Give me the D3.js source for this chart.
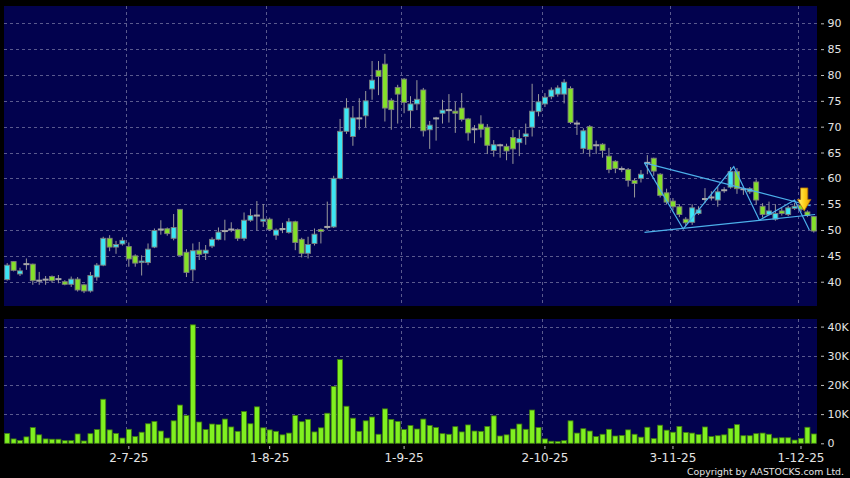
<!DOCTYPE html>
<html>
<head>
<meta charset="utf-8">
<script src="https://d3js.org/d3.v7.min.js"></script>
<style>
    body { margin:0; background:#000; }
    svg { display:block; font-family:"DejaVu Sans", sans-serif; }
</style>
</head>
<body>
<svg id="chart" width="850" height="478"></svg>
<script>
// trading days, d-m-yy
var dates = [
    "4-6-25","5-6-25","6-6-25","9-6-25","10-6-25","11-6-25","12-6-25","13-6-25","16-6-25","17-6-25",
    "18-6-25","19-6-25","20-6-25","23-6-25","24-6-25","25-6-25","26-6-25","27-6-25","30-6-25",
    "2-7-25","3-7-25","4-7-25","7-7-25","8-7-25","9-7-25","10-7-25","11-7-25","14-7-25","15-7-25",
    "16-7-25","17-7-25","18-7-25","21-7-25","22-7-25","23-7-25","24-7-25","25-7-25","28-7-25","29-7-25",
    "30-7-25","31-7-25",
    "1-8-25","4-8-25","5-8-25","6-8-25","7-8-25","8-8-25","11-8-25","12-8-25","13-8-25","14-8-25",
    "15-8-25","18-8-25","19-8-25","20-8-25","21-8-25","22-8-25","25-8-25","26-8-25","27-8-25","28-8-25",
    "29-8-25",
    "1-9-25","2-9-25","3-9-25","4-9-25","5-9-25","8-9-25","9-9-25","10-9-25","11-9-25","12-9-25",
    "15-9-25","16-9-25","17-9-25","18-9-25","19-9-25","22-9-25","23-9-25","24-9-25","25-9-25","26-9-25",
    "29-9-25","30-9-25",
    "2-10-25","3-10-25","6-10-25","8-10-25","9-10-25","10-10-25","13-10-25","14-10-25","15-10-25","16-10-25",
    "17-10-25","20-10-25","21-10-25","22-10-25","23-10-25","24-10-25","27-10-25","28-10-25","30-10-25","31-10-25",
    "3-11-25","4-11-25","5-11-25","6-11-25","7-11-25","10-11-25","11-11-25","12-11-25","13-11-25","14-11-25",
    "17-11-25","18-11-25","19-11-25","20-11-25","21-11-25","24-11-25","25-11-25","26-11-25","27-11-25","28-11-25",
    "1-12-25","2-12-25","3-12-25"
];

var open = [
    40.4,43.9,41.5,43.4,43.4,40.2,40.4,41.0,40.5,40.0, 39.5,40.5,39.4,38.2,40.9,43.2,48.4,46.7,47.3,46.8,
    45.0,43.7,43.7,46.7,50.1,50.25,48.4,54.0,45.7,42.3, 46.1,45.5,46.9,48.2,49.8,50.1,50.1,48.4,51.9,52.8,
    51.7,52.1,49.0,50.2,49.55,51.6,48.2,45.5,47.4,50.1, 50.6,50.6,60.0,69.1,68.1,71.6,72.1,77.3,80.9,82.1,
    75.1,77.6,79.2,73.1,74.4,77.1,69.4,71.6,72.6,73.2, 73.0,73.6,71.5,69.5,70.5,69.9,65.4,66.4,66.2,67.9,
    66.9,68.1,69.9,72.9,74.4,75.8,76.3,76.3,77.4,70.6, 65.8,70.0,66.4,66.6,64.3,63.3,61.8,61.7,59.6,60.0,
    63.0,63.9,60.8,57.2,55.6,54.5,52.1,51.5,53.2,56.0, 56.3,55.8,57.7,58.3,61.3,57.9,57.4,59.3,54.6,53.0,
    52.1,53.7,53.0,54.2,54.8,53.5,52.6
];
var high = [
    43.6,44.0,42.7,44.5,43.5,41.9,41.1,41.2,41.3,40.3, 41.0,40.9,39.6,41.9,43.6,48.7,49.0,47.9,48.6,47.6,
    45.3,45.1,47.4,50.3,51.9,50.5,53.1,54.0,46.3,47.4, 47.7,47.1,48.6,50.5,52.0,51.5,50.3,53.4,54.1,55.6,
    55.0,52.4,50.3,51.4,52.3,51.8,48.5,48.7,50.3,50.3, 55.5,60.5,71.5,75.5,74.0,75.5,76.9,82.7,82.7,84.1,
    75.5,78.1,79.4,75.9,79.0,77.5,71.1,71.9,75.2,76.3, 74.8,76.5,71.7,70.3,72.2,70.5,67.4,66.7,66.7,69.4,
    69.4,70.6,78.3,76.3,76.5,77.6,78.0,79.2,77.8,71.2, 69.7,70.3,67.3,66.8,65.9,63.5,62.3,62.0,60.0,61.6,
    64.5,64.0,61.0,58.0,56.2,55.0,52.5,55.0,54.6,58.1, 57.5,58.4,58.3,62.2,62.0,58.3,58.3,59.8,55.2,55.5,
    55.0,54.3,54.7,55.3,55.5,53.8,52.7
];
var low = [
    40.2,42.0,41.1,42.3,39.4,39.4,39.4,39.8,39.7,39.3, 39.0,38.1,37.8,37.9,40.2,43.0,45.9,45.4,47.0,42.9,
    42.9,41.2,43.2,46.5,49.1,48.9,48.0,45.0,40.9,40.1, 44.2,44.2,46.5,48.0,48.0,49.6,47.9,47.9,51.6,49.9,
    50.6,49.8,48.1,49.4,49.3,46.1,44.7,44.5,47.0,47.4, 50.1,50.4,59.8,68.6,66.3,69.4,69.9,75.2,76.1,71.0,
    69.4,70.6,72.6,69.7,73.2,68.1,65.7,67.3,70.6,70.8, 68.8,71.0,67.3,66.8,67.9,64.7,64.2,64.0,63.5,62.8,
    64.3,66.5,68.1,72.0,73.8,75.3,75.8,74.5,70.5,68.4, 64.8,64.2,64.7,64.0,61.0,61.0,61.2,58.4,56.3,59.2,
    60.8,60.5,56.3,55.0,53.8,52.5,50.8,51.0,52.9,55.2, 55.7,54.5,57.2,58.0,57.0,56.8,57.0,54.9,52.4,52.8,
    51.8,52.8,52.7,53.9,53.5,52.5,49.5
];
var close = [
    43.2,42.2,42.1,43.4,40.2,40.2,40.4,40.2,40.5,39.5, 40.5,38.4,38.2,41.2,43.2,48.4,46.7,47.2,48.0,44.4,
    43.6,44.0,46.3,49.9,50.1,49.3,50.5,45.1,41.8,46.0, 45.3,46.1,48.2,49.6,49.8,50.1,48.4,51.9,52.8,52.8,
    52.1,50.1,50.0,50.2,51.6,47.6,45.5,47.2,49.2,49.7, 50.6,60.0,69.1,73.6,71.7,71.6,75.0,79.0,79.7,73.6,
    73.3,76.3,74.7,74.4,75.3,69.2,70.3,71.6,73.2,73.2, 72.6,71.4,68.8,69.5,69.5,66.4,66.5,66.4,65.3,65.7,
    67.7,68.6,73.0,74.8,75.7,77.1,77.5,78.6,70.8,70.6, 69.2,65.6,66.4,65.4,61.7,61.9,61.8,59.6,59.0,60.8,
    63.0,61.4,56.7,55.4,54.5,53.0,51.4,54.3,53.9,56.0, 56.3,57.4,57.7,61.3,58.0,57.9,58.0,55.8,53.0,53.7,
    53.2,53.2,54.3,54.6,54.0,52.8,49.8
];
// volume in thousands of shares
var volume = [
    3.4,1.5,1.0,2.2,5.4,2.9,1.5,1.4,1.4,0.9, 0.9,3.2,0.8,3.3,4.7,15.1,4.6,3.4,1.8,4.8,
    2.3,3.8,6.7,7.5,4.2,1.8,7.7,13.1,9.5,40.6, 7.3,4.7,6.6,6.4,8.3,5.6,4.1,10.9,6.7,12.5,
    5.3,4.6,4.1,2.9,3.5,9.5,7.4,8.2,3.9,5.3, 10.3,19.5,28.7,12.7,8.6,4.1,7.7,9.0,3.1,11.8,
    8.2,7.5,4.7,6.1,4.9,8.3,6.1,5.4,3.3,3.1, 5.7,3.9,6.3,4.2,4.1,5.8,9.4,2.5,2.9,4.9,
    6.6,4.8,11.4,5.4,1.5,0.7,0.6,0.9,7.7,3.5, 5.0,4.2,2.3,3.1,4.8,2.5,2.7,4.6,3.1,2.1,
    5.5,1.6,6.2,4.5,3.8,5.8,3.7,3.5,3.0,5.6, 2.3,2.6,2.9,5.1,6.4,2.6,2.6,3.3,3.5,3.1,
    1.8,1.9,1.9,1.1,1.7,5.5,3.2
];

var priceTicks = [40, 45, 50, 55, 60, 65, 70, 75, 80, 85, 90];
var volTicks = [0, 10, 20, 30, 40];
var dateTicks = ["2-7-25", "1-8-25", "1-9-25", "2-10-25", "3-11-25", "1-12-25"];

// pattern drawing: [bar index, price]
var trendUpper = [[99.55, 63.0], [125.5, 54.7]];
var trendLower = [[99.55, 49.55], [126.2, 53.0]];
var zigzag = [[99.55, 63.0], [105.6, 50.2], [113.5, 62.25], [117.5, 51.9], [123.0, 55.8], [125.3, 50.0]];
var signalArrow = [124.5, 53.7];

var svg = d3.select("#chart");
var L = 4, R = 817;
var gridColor = "#5a5a8e";
var textColor = "#e4e4e4";

var x = d3.scaleBand().domain(dates).range([L, R]).padding(0);
var xi = d3.scaleLinear().domain([-0.5, dates.length - 0.5]).range([L, R]);
var y = d3.scaleLinear().domain([35.3, 93.35]).range([306, 6]);
var yv = d3.scaleLinear().domain([0, 42.6]).range([443.3, 319]);
var bw = x.bandwidth();

svg.append("rect").attr("width", 850).attr("height", 478).attr("fill", "#000");

// panels
svg.append("rect").attr("x", L).attr("y", y.range()[1]).attr("width", R - L)
    .attr("height", y.range()[0] - y.range()[1]).attr("fill", "#02024e");
svg.append("rect").attr("x", L).attr("y", yv.range()[1]).attr("width", R - L)
    .attr("height", yv.range()[0] - yv.range()[1]).attr("fill", "#02024e");

// grid
var grid = svg.append("g").attr("stroke", gridColor).attr("stroke-dasharray", "3,3").attr("stroke-width", 1);
grid.selectAll(".hp").data(priceTicks).enter().append("line")
    .attr("x1", L).attr("x2", R)
    .attr("y1", function(d) { return Math.round(y(d)) + 0.5; })
    .attr("y2", function(d) { return Math.round(y(d)) + 0.5; });
grid.selectAll(".hv").data(volTicks.filter(function(d) { return d > 0; })).enter().append("line")
    .attr("x1", L).attr("x2", R)
    .attr("y1", function(d) { return Math.round(yv(d)) + 0.5; })
    .attr("y2", function(d) { return Math.round(yv(d)) + 0.5; });
dateTicks.forEach(function(d) {
    var gx = Math.round(x(d)) + 0.5;
    grid.append("line").attr("x1", gx).attr("x2", gx).attr("y1", y.range()[1]).attr("y2", y.range()[0]);
    grid.append("line").attr("x1", gx).attr("x2", gx).attr("y1", yv.range()[1]).attr("y2", yv.range()[0]);
});

// candles
var idx = d3.range(dates.length);
var cx = function(i) { return x(dates[i]) + bw / 2; };
var candles = svg.append("g");
candles.selectAll(".wick").data(idx).enter().append("line")
    .attr("x1", cx).attr("x2", cx)
    .attr("y1", function(i) { return y(high[i]); })
    .attr("y2", function(i) { return y(low[i]); })
    .attr("stroke", "#9a9a9a").attr("stroke-width", 1);

candles.selectAll(".body").data(idx.filter(function(i) { return open[i] !== close[i]; })).enter().append("rect")
    .attr("x", function(i) { return cx(i) - 2.5; })
    .attr("width", 5)
    .attr("y", function(i) { return y(Math.max(open[i], close[i])); })
    .attr("height", function(i) { return Math.max(1.5, Math.abs(y(open[i]) - y(close[i]))); })
    .attr("fill", function(i) { return close[i] > open[i] ? "#3ce6f4" : "#84e02a"; })
    .attr("stroke", "#7c7c7c").attr("stroke-width", 0.9);

candles.selectAll(".doji").data(idx.filter(function(i) { return open[i] === close[i]; })).enter().append("rect")
    .attr("x", function(i) { return cx(i) - 3; })
    .attr("width", 6)
    .attr("y", function(i) { return y(open[i]) - 1; })
    .attr("height", 2)
    .attr("fill", "#a8a8a8");

// volume
svg.append("g").selectAll("rect").data(idx).enter().append("rect")
    .attr("x", function(i) { return cx(i) - 2.5; })
    .attr("width", 5)
    .attr("y", function(i) { return yv(volume[i]); })
    .attr("height", function(i) { return yv(0) - yv(volume[i]); })
    .attr("fill", "#80f020").attr("stroke", "#3f7a10").attr("stroke-width", 0.8);

// pattern lines
var pline = d3.line().x(function(p) { return xi(p[0]); }).y(function(p) { return y(p[1]); });
var pat = svg.append("g").attr("fill", "none").attr("stroke", "#4cb0ea").attr("stroke-width", 1.2);
[trendUpper, trendLower, zigzag].forEach(function(pts) {
    pat.append("path").attr("d", pline(pts));
});

// signal arrow
var defs = svg.append("defs");
var grad = defs.append("linearGradient").attr("id", "arrowGrad").attr("x1", "0").attr("x2", "1").attr("y1", "0").attr("y2", "0");
grad.append("stop").attr("offset", "0").attr("stop-color", "#fff27a");
grad.append("stop").attr("offset", "0.5").attr("stop-color", "#ffd21c");
grad.append("stop").attr("offset", "1").attr("stop-color", "#e79a00");
var ax = xi(signalArrow[0]), ay = y(signalArrow[1]);
svg.append("path")
    .attr("d", "M" + (ax - 3.6) + "," + (ay - 23) + "H" + (ax + 3.6) + "V" + (ay - 11.5) +
        "H" + (ax + 6.8) + "L" + ax + "," + ay + "L" + (ax - 6.8) + "," + (ay - 11.5) +
        "H" + (ax - 3.6) + "Z")
    .attr("fill", "url(#arrowGrad)").attr("stroke", "#b07000").attr("stroke-width", 0.8);

// right axes
var priceAxis = d3.axisRight(y).tickValues(priceTicks).tickSize(3).tickPadding(3.5);
var pa = svg.append("g").attr("transform", "translate(821,0)").call(priceAxis);
var volAxis = d3.axisRight(yv).tickValues(volTicks).tickSize(3).tickPadding(3.5)
    .tickFormat(function(d) { return d === 0 ? "0" : d + "K"; });
var va = svg.append("g").attr("transform", "translate(821,0)").call(volAxis);
[pa, va].forEach(function(g) {
    g.select(".domain").remove();
    g.selectAll(".tick line").attr("stroke", "#bdbdbd");
    g.selectAll(".tick text").attr("fill", textColor).attr("font-size", "11px")
        .attr("font-family", "DejaVu Sans, sans-serif");
});

// date axis
var da = svg.append("g");
da.selectAll("line").data(dateTicks).enter().append("line")
    .attr("x1", function(d) { return x(d) + bw / 2; })
    .attr("x2", function(d) { return x(d) + bw / 2; })
    .attr("y1", 446).attr("y2", 449).attr("stroke", "#bdbdbd");
da.selectAll("text").data(dateTicks).enter().append("text")
    .attr("x", function(d) { return x(d) + bw / 2; })
    .attr("y", 462)
    .attr("text-anchor", "middle")
    .attr("fill", textColor).attr("font-size", "12px")
    .text(function(d) { return d; });

svg.append("text").attr("x", 844).attr("y", 474.5).attr("text-anchor", "end")
    .attr("fill", textColor).attr("font-size", "9.5px")
    .attr("textLength", 157).attr("lengthAdjust", "spacingAndGlyphs")
    .text("Copyright by AASTOCKS.com Ltd.");
</script>
</body>
</html>
